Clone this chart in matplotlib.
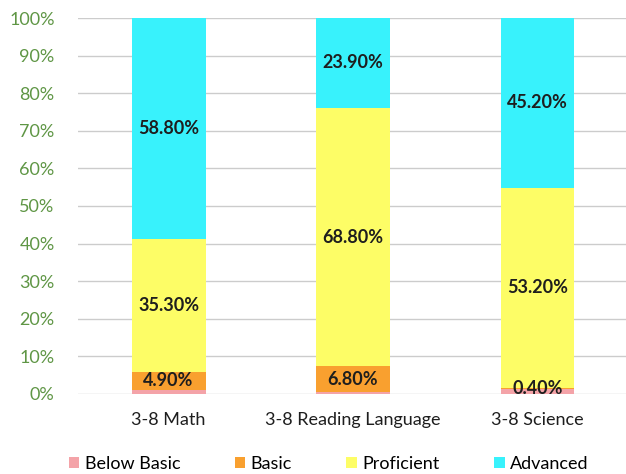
import numpy as np
import matplotlib.pyplot as plt

plt.rcParams['font.family'] = ['Lato', 'DejaVu Sans']

subjects = ["3-8 Math", "3-8 Reading Language", "3-8 Science"]
levels = ["Below Basic", "Basic", "Proficient", "Advanced"]
below_basic = [1.0, 0.5, 1.2]
basic = [4.9, 6.8, 0.4]
proficient = [35.3, 68.8, 53.2]
advanced = [58.8, 23.9, 45.2]
colors = ["#f4a3a8", "#f9a02f", "#fdfd66", "#38f2fc"]

series = [below_basic, basic, proficient, advanced]
show_label = [False, True, True, True]

fig = plt.figure(figsize=(6.26, 4.74), dpi=100)
ax = fig.add_axes([0.125, 0.169, 0.875, 0.793])

x = np.arange(len(subjects))
bottom = np.zeros(len(subjects))
for vals, col, name, lab in zip(series, colors, levels, show_label):
    vals = np.array(vals)
    ax.bar(x, vals, 0.4, bottom=bottom, color=col, label=name, zorder=3)
    if lab:
        for xi, b, v in zip(x, bottom, vals):
            yc = b + v / 2 if v > 2 else b + 0.3
            ax.text(xi, yc, f"{v:.2f}%", ha="center", va="center",
                    fontsize=13, fontweight="bold", color="#1e1e1e", zorder=4)
    bottom += vals

ax.set_xlim(-0.49, 2.48)
ax.set_ylim(0, 100)
ax.set_yticks(np.arange(0, 101, 10))
ax.set_yticklabels([f"{t}%" for t in range(0, 101, 10)], color="#5f9645",
                   fontsize=13)
ax.tick_params(axis="y", length=0, pad=17)
ax.tick_params(axis="x", length=0, pad=13)
ax.set_xticks(x)
ax.set_xticklabels(subjects, color="#1e1e1e", fontsize=13)
ax.grid(axis="y", color="#cccccc", linewidth=1, zorder=0)
for s in ax.spines.values():
    s.set_visible(False)

fig.legend(loc="lower center", bbox_to_anchor=(0.525, -0.03), ncol=4, frameon=False,
           prop={"size": 13}, handlelength=0.6, handleheight=0.6,
           columnspacing=3.0, handletextpad=0.3)

fig.savefig("out.png", dpi=100)
